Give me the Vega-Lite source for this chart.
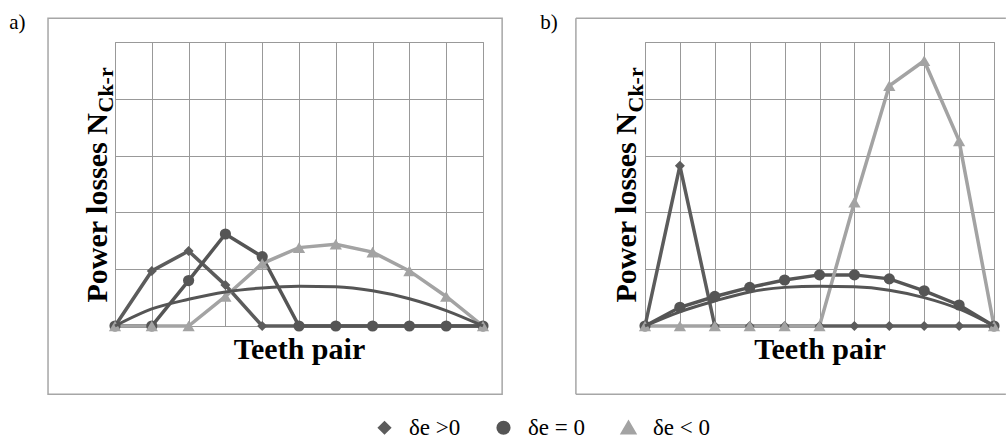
{
  "$schema": "https://vega.github.io/schema/vega-lite/v6.json",
  "padding": {"left": 8, "top": 11, "right": 0, "bottom": 0},
  "background": "white",
  "config": {
    "view": {"stroke": "#999999", "strokeWidth": 1},
    "font": "Liberation Serif",
    "axis": {"gridColor": "#999999", "gridWidth": 1, "gridOpacity": 1},
    "legend": {"labelFont": "Liberation Serif", "labelFontSize": 23, "labelColor": "black", "labelOffset": 13, "columnPadding": 30, "symbolSize": 1225, "symbolStrokeWidth": 3, "padding": 0}
  },
  "datasets": {
    "d": [
      {"panel": "a", "series": "δe >0", "x": 0, "y": 0},
      {"panel": "a", "series": "δe >0", "x": 1, "y": 0.97},
      {"panel": "a", "series": "δe >0", "x": 2, "y": 1.32},
      {"panel": "a", "series": "δe >0", "x": 3, "y": 0.72},
      {"panel": "a", "series": "δe >0", "x": 4, "y": 0},
      {"panel": "a", "series": "δe >0", "x": 5, "y": 0},
      {"panel": "a", "series": "δe >0", "x": 6, "y": 0},
      {"panel": "a", "series": "δe >0", "x": 7, "y": 0},
      {"panel": "a", "series": "δe >0", "x": 8, "y": 0},
      {"panel": "a", "series": "δe >0", "x": 9, "y": 0},
      {"panel": "a", "series": "δe >0", "x": 10, "y": 0},
      {"panel": "a", "series": "δe = 0", "x": 0, "y": 0},
      {"panel": "a", "series": "δe = 0", "x": 1, "y": 0},
      {"panel": "a", "series": "δe = 0", "x": 2, "y": 0.80},
      {"panel": "a", "series": "δe = 0", "x": 3, "y": 1.62},
      {"panel": "a", "series": "δe = 0", "x": 4, "y": 1.22},
      {"panel": "a", "series": "δe = 0", "x": 5, "y": 0},
      {"panel": "a", "series": "δe = 0", "x": 6, "y": 0},
      {"panel": "a", "series": "δe = 0", "x": 7, "y": 0},
      {"panel": "a", "series": "δe = 0", "x": 8, "y": 0},
      {"panel": "a", "series": "δe = 0", "x": 9, "y": 0},
      {"panel": "a", "series": "δe = 0", "x": 10, "y": 0},
      {"panel": "a", "series": "δe < 0", "x": 0, "y": 0},
      {"panel": "a", "series": "δe < 0", "x": 1, "y": 0},
      {"panel": "a", "series": "δe < 0", "x": 2, "y": 0},
      {"panel": "a", "series": "δe < 0", "x": 3, "y": 0.52},
      {"panel": "a", "series": "δe < 0", "x": 4, "y": 1.10},
      {"panel": "a", "series": "δe < 0", "x": 5, "y": 1.38},
      {"panel": "a", "series": "δe < 0", "x": 6, "y": 1.44},
      {"panel": "a", "series": "δe < 0", "x": 7, "y": 1.30},
      {"panel": "a", "series": "δe < 0", "x": 8, "y": 0.97},
      {"panel": "a", "series": "δe < 0", "x": 9, "y": 0.52},
      {"panel": "a", "series": "δe < 0", "x": 10, "y": 0},
      {"panel": "a", "series": "fit", "x": 0, "y": 0},
      {"panel": "a", "series": "fit", "x": 1, "y": 0.30},
      {"panel": "a", "series": "fit", "x": 2, "y": 0.47},
      {"panel": "a", "series": "fit", "x": 3, "y": 0.60},
      {"panel": "a", "series": "fit", "x": 4, "y": 0.67},
      {"panel": "a", "series": "fit", "x": 5, "y": 0.70},
      {"panel": "a", "series": "fit", "x": 6, "y": 0.69},
      {"panel": "a", "series": "fit", "x": 7, "y": 0.62},
      {"panel": "a", "series": "fit", "x": 8, "y": 0.48},
      {"panel": "a", "series": "fit", "x": 9, "y": 0.27},
      {"panel": "a", "series": "fit", "x": 10, "y": 0},
      {"panel": "b", "series": "δe >0", "x": 0, "y": 0},
      {"panel": "b", "series": "δe >0", "x": 1, "y": 2.82},
      {"panel": "b", "series": "δe >0", "x": 2, "y": 0},
      {"panel": "b", "series": "δe >0", "x": 3, "y": 0},
      {"panel": "b", "series": "δe >0", "x": 4, "y": 0},
      {"panel": "b", "series": "δe >0", "x": 5, "y": 0},
      {"panel": "b", "series": "δe >0", "x": 6, "y": 0},
      {"panel": "b", "series": "δe >0", "x": 7, "y": 0},
      {"panel": "b", "series": "δe >0", "x": 8, "y": 0},
      {"panel": "b", "series": "δe >0", "x": 9, "y": 0},
      {"panel": "b", "series": "δe >0", "x": 10, "y": 0},
      {"panel": "b", "series": "δe = 0", "x": 0, "y": 0},
      {"panel": "b", "series": "δe = 0", "x": 1, "y": 0.33},
      {"panel": "b", "series": "δe = 0", "x": 2, "y": 0.52},
      {"panel": "b", "series": "δe = 0", "x": 3, "y": 0.68},
      {"panel": "b", "series": "δe = 0", "x": 4, "y": 0.81},
      {"panel": "b", "series": "δe = 0", "x": 5, "y": 0.90},
      {"panel": "b", "series": "δe = 0", "x": 6, "y": 0.90},
      {"panel": "b", "series": "δe = 0", "x": 7, "y": 0.83},
      {"panel": "b", "series": "δe = 0", "x": 8, "y": 0.62},
      {"panel": "b", "series": "δe = 0", "x": 9, "y": 0.37},
      {"panel": "b", "series": "δe = 0", "x": 10, "y": 0},
      {"panel": "b", "series": "δe < 0", "x": 0, "y": 0},
      {"panel": "b", "series": "δe < 0", "x": 1, "y": 0},
      {"panel": "b", "series": "δe < 0", "x": 2, "y": 0},
      {"panel": "b", "series": "δe < 0", "x": 3, "y": 0},
      {"panel": "b", "series": "δe < 0", "x": 4, "y": 0},
      {"panel": "b", "series": "δe < 0", "x": 5, "y": 0},
      {"panel": "b", "series": "δe < 0", "x": 6, "y": 2.18},
      {"panel": "b", "series": "δe < 0", "x": 7, "y": 4.23},
      {"panel": "b", "series": "δe < 0", "x": 8, "y": 4.67},
      {"panel": "b", "series": "δe < 0", "x": 9, "y": 3.26},
      {"panel": "b", "series": "δe < 0", "x": 10, "y": 0},
      {"panel": "b", "series": "fit", "x": 0, "y": 0},
      {"panel": "b", "series": "fit", "x": 1, "y": 0.25},
      {"panel": "b", "series": "fit", "x": 2, "y": 0.44},
      {"panel": "b", "series": "fit", "x": 3, "y": 0.60},
      {"panel": "b", "series": "fit", "x": 4, "y": 0.68},
      {"panel": "b", "series": "fit", "x": 5, "y": 0.70},
      {"panel": "b", "series": "fit", "x": 6, "y": 0.69},
      {"panel": "b", "series": "fit", "x": 7, "y": 0.63},
      {"panel": "b", "series": "fit", "x": 8, "y": 0.50},
      {"panel": "b", "series": "fit", "x": 9, "y": 0.30},
      {"panel": "b", "series": "fit", "x": 10, "y": 0}
    ]
  },
  "spacing": 35,
  "hconcat": [
    {
      "width": 368,
      "height": 284,
      "title": {"text": "a)", "anchor": "start", "frame": "bounds", "font": "Liberation Serif", "fontSize": 21, "fontWeight": "normal", "color": "black", "baseline": "alphabetic", "offset": 0, "dx": -38, "dy": 33},
      "resolve": {"axis": {"x": "independent", "y": "independent"}},
      "layer": [
        {
          "data": {"values": [{}]},
          "mark": {"type": "rect", "filled": false, "stroke": "#a6a6a6", "strokeWidth": 1.5, "clip": false},
          "encoding": {
            "x": {"datum": -1.82, "type": "quantitative", "axis": null},
            "x2": {"datum": 10.52},
            "y": {"datum": -1.2, "type": "quantitative", "axis": null},
            "y2": {"datum": 5.42}
          }
        },
        {
          "data": {"name": "d"},
          "transform": [{"filter": "datum.panel === 'a' && datum.series !== 'fit'"}],
          "mark": {"type": "line", "strokeWidth": 3.5},
          "encoding": {
            "x": {"field": "x", "type": "quantitative", "scale": {"domain": [0, 10], "nice": false}, "axis": {"grid": true, "values": [0,1,2,3,4,5,6,7,8,9,10], "labels": false, "ticks": false, "domain": false, "title": "Teeth pair", "titleFont": "Liberation Serif", "titleFontSize": 30, "titleFontWeight": "bold", "titleColor": "black", "titleBaseline": "alphabetic", "titleY": 32}},
            "y": {"field": "y", "type": "quantitative", "scale": {"domain": [0, 5], "nice": false}, "axis": {"grid": true, "values": [0,1,2,3,4,5], "labels": false, "ticks": false, "domain": false, "title": "Power losses N", "titleFont": "Liberation Serif", "titleFontSize": 30, "titleFontWeight": "bold", "titleColor": "black", "titleAngle": 270, "titleAlign": "left", "titleBaseline": "alphabetic", "titleX": -9, "titleY": 260}},
            "color": {"field": "series", "type": "nominal", "scale": {"domain": ["δe >0", "δe = 0", "δe < 0"], "range": ["#5c5c5c", "#555555", "#a3a3a3"]},
              "legend": {"title": null, "orient": "none", "legendX": 258, "legendY": 374, "direction": "horizontal", "padding": 0, "symbolSize": 1225, "symbolStrokeWidth": 3, "labelFont": "Liberation Serif", "labelFontSize": 23, "labelColor": "black", "labelOffset": 13, "columnPadding": 30,
                "encode": {"symbols": {"update": {
                  "shape": {"signal": "datum.value === 'δe >0' ? 'M-1,0L1,0M0,-0.24L0.24,0L0,0.24L-0.24,0Z' : datum.value === 'δe = 0' ? 'M-1,0L1,0M-0.28,0A0.28,0.28,0,1,0,0.28,0A0.28,0.28,0,1,0,-0.28,0Z' : 'M-1,0L1,0M0,-0.28L0.32,0.24L-0.32,0.24Z'"},
                  "fill": {"signal": "datum.value === 'δe < 0' ? '#a3a3a3' : '#5a5a5a'"},
                  "stroke": {"signal": "datum.value === 'δe < 0' ? '#a3a3a3' : '#5a5a5a'"},
                  "strokeWidth": {"value": 3},
                  "opacity": {"value": 1}
                }}}}}
          }
        },
        {
          "data": {"name": "d"},
          "transform": [{"filter": "datum.panel === 'a' && datum.series !== 'fit'"}],
          "mark": {"type": "point", "filled": true, "opacity": 1},
          "encoding": {
            "x": {"field": "x", "type": "quantitative", "axis": null},
            "y": {"field": "y", "type": "quantitative", "axis": null},
            "fill": {"field": "series", "type": "nominal", "scale": {"domain": ["δe >0", "δe = 0", "δe < 0"], "range": ["#5c5c5c", "#555555", "#a3a3a3"]}, "legend": null},
            "shape": {"field": "series", "type": "nominal", "scale": {"domain": ["δe >0", "δe = 0", "δe < 0"], "range": ["diamond", "circle", "triangle-up"]}, "legend": null},
            "size": {"field": "series", "type": "nominal", "scale": {"domain": ["δe >0", "δe = 0", "δe < 0"], "range": [100, 150, 190]}, "legend": null}
          }
        },
        {
          "data": {"name": "d"},
          "transform": [{"filter": "datum.panel === 'a' && datum.series === 'fit'"}],
          "mark": {"type": "line", "strokeWidth": 3, "color": "#555555", "interpolate": "monotone"},
          "encoding": {
            "x": {"field": "x", "type": "quantitative", "axis": null},
            "y": {"field": "y", "type": "quantitative", "axis": {"orient": "right", "grid": false, "labels": false, "ticks": false, "domain": false, "title": "Ck-r", "titleFont": "Liberation Serif", "titleFontSize": 22, "titleFontWeight": "bold", "titleColor": "black", "titleAngle": 270, "titleAlign": "left", "titleBaseline": "alphabetic", "titleX": -371, "titleY": 70}}
          }
        }
      ]
    },
    {
      "width": 349,
      "height": 284,
      "title": {"text": "b)", "anchor": "start", "frame": "bounds", "font": "Liberation Serif", "fontSize": 21, "fontWeight": "normal", "color": "black", "baseline": "alphabetic", "offset": 0, "dx": -35, "dy": 33},
      "resolve": {"axis": {"x": "independent", "y": "independent"}},
      "layer": [
        {
          "data": {"values": [{}]},
          "mark": {"type": "rule", "stroke": "#a6a6a6", "strokeWidth": 1.5, "clip": false},
          "encoding": {
            "x": {"datum": -1.98, "type": "quantitative", "axis": null},
            "y": {"datum": -1.2, "type": "quantitative", "axis": null},
            "y2": {"datum": 5.42}
          }
        },
        {
          "data": {"values": [{}]},
          "mark": {"type": "rule", "stroke": "#a6a6a6", "strokeWidth": 1.5, "clip": false},
          "encoding": {
            "x": {"datum": -1.98, "type": "quantitative", "axis": null},
            "x2": {"datum": 10.34},
            "y": {"datum": 5.42, "type": "quantitative", "axis": null}
          }
        },
        {
          "data": {"values": [{}]},
          "mark": {"type": "rule", "stroke": "#a6a6a6", "strokeWidth": 1.5, "clip": false},
          "encoding": {
            "x": {"datum": -1.98, "type": "quantitative", "axis": null},
            "x2": {"datum": 10.34},
            "y": {"datum": -1.2, "type": "quantitative", "axis": null}
          }
        },
        {
          "data": {"name": "d"},
          "transform": [{"filter": "datum.panel === 'b' && datum.series !== 'fit'"}],
          "mark": {"type": "line", "strokeWidth": 3.5},
          "encoding": {
            "x": {"field": "x", "type": "quantitative", "scale": {"domain": [0, 10], "nice": false}, "axis": {"grid": true, "values": [0,1,2,3,4,5,6,7,8,9,10], "labels": false, "ticks": false, "domain": false, "title": "Teeth pair", "titleFont": "Liberation Serif", "titleFontSize": 30, "titleFontWeight": "bold", "titleColor": "black", "titleBaseline": "alphabetic", "titleY": 32}},
            "y": {"field": "y", "type": "quantitative", "scale": {"domain": [0, 5], "nice": false}, "axis": {"grid": true, "values": [0,1,2,3,4,5], "labels": false, "ticks": false, "domain": false, "title": "Power losses N", "titleFont": "Liberation Serif", "titleFontSize": 30, "titleFontWeight": "bold", "titleColor": "black", "titleAngle": 270, "titleAlign": "left", "titleBaseline": "alphabetic", "titleX": -10, "titleY": 260}},
            "color": {"field": "series", "type": "nominal",
              "legend": {"title": null, "orient": "none", "legendX": 258, "legendY": 374, "direction": "horizontal", "padding": 0, "symbolSize": 1225, "symbolStrokeWidth": 3, "labelFont": "Liberation Serif", "labelFontSize": 23, "labelColor": "black", "labelOffset": 13, "columnPadding": 30,
                "encode": {"symbols": {"update": {
                  "shape": {"signal": "datum.value === 'δe >0' ? 'M-1,0L1,0M0,-0.24L0.24,0L0,0.24L-0.24,0Z' : datum.value === 'δe = 0' ? 'M-1,0L1,0M-0.28,0A0.28,0.28,0,1,0,0.28,0A0.28,0.28,0,1,0,-0.28,0Z' : 'M-1,0L1,0M0,-0.28L0.32,0.24L-0.32,0.24Z'"},
                  "fill": {"signal": "datum.value === 'δe < 0' ? '#a3a3a3' : '#5a5a5a'"},
                  "stroke": {"signal": "datum.value === 'δe < 0' ? '#a3a3a3' : '#5a5a5a'"},
                  "strokeWidth": {"value": 3},
                  "opacity": {"value": 1}
                }}}}}
          }
        },
        {
          "data": {"name": "d"},
          "transform": [{"filter": "datum.panel === 'b' && datum.series !== 'fit'"}],
          "mark": {"type": "point", "filled": true, "opacity": 1},
          "encoding": {
            "x": {"field": "x", "type": "quantitative", "axis": null},
            "y": {"field": "y", "type": "quantitative", "axis": null},
            "fill": {"field": "series", "type": "nominal", "legend": null},
            "shape": {"field": "series", "type": "nominal", "legend": null},
            "size": {"field": "series", "type": "nominal", "legend": null}
          }
        },
        {
          "data": {"name": "d"},
          "transform": [{"filter": "datum.panel === 'b' && datum.series === 'fit'"}],
          "mark": {"type": "line", "strokeWidth": 3, "color": "#555555", "interpolate": "monotone"},
          "encoding": {
            "x": {"field": "x", "type": "quantitative", "axis": null},
            "y": {"field": "y", "type": "quantitative", "axis": {"orient": "right", "grid": false, "labels": false, "ticks": false, "domain": false, "title": "Ck-r", "titleFont": "Liberation Serif", "titleFontSize": 22, "titleFontWeight": "bold", "titleColor": "black", "titleAngle": 270, "titleAlign": "left", "titleBaseline": "alphabetic", "titleX": -352, "titleY": 70}}
          }
        }
      ]
    }
  ],
  "resolve": {"scale": {"color": "shared", "fill": "shared", "shape": "shared", "size": "shared"}}
}
